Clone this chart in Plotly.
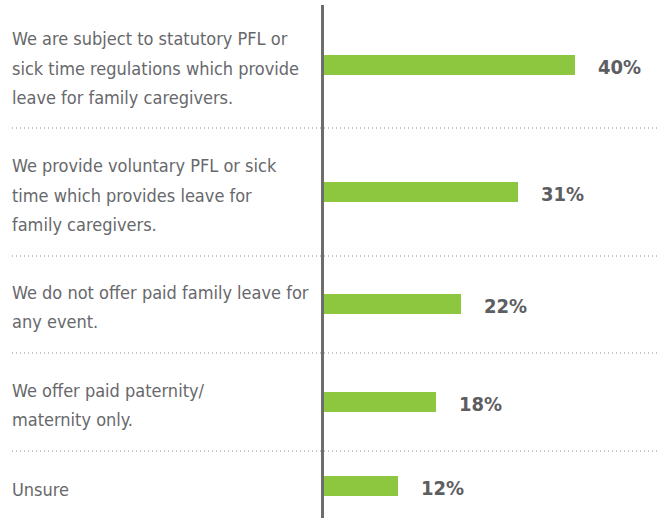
import plotly.graph_objects as go

# ---- data ----
categories = [
    "We are subject to statutory PFL or<br>sick time regulations which provide<br>leave for family caregivers.",
    "We provide voluntary PFL or sick<br>time which provides leave for<br>family caregivers.",
    "We do not offer paid family leave for<br>any event.",
    "We offer paid paternity/<br>maternity only.",
    "Unsure",
]
values = [40, 31, 22, 18, 12]
value_labels = ["40%", "31%", "22%", "18%", "12%"]

# ---- layout constants (pixel-based positions) ----
W, H = 657, 518
AXIS_PX = 322.5
PX_PER_UNIT = 6.3
bar_centers = [65, 192, 304, 402, 486]
separators = [128, 256, 353, 451]
LINE_GAP = 29.5
FONT = "Liberation Sans Narrow, DejaVu Sans Condensed, Arial Narrow, sans-serif"
GREEN = "#8dc63f"
TEXT = "#67686b"
VAL = "#5d5e61"

def px_to_x(p):
    return (p - AXIS_PX) / PX_PER_UNIT

fig = go.Figure()
fig.add_trace(go.Bar(
    x=values, y=bar_centers, orientation="h", width=20,
    marker=dict(color=GREEN, line=dict(width=0)),
    hoverinfo="skip", base=0,
))

# value labels
for v, lab, yc in zip(values, value_labels, bar_centers):
    fig.add_annotation(x=v, y=yc + 2, xref="x", yref="y", text="<b>" + lab + "</b>",
                       showarrow=False, xanchor="left", yanchor="middle", xshift=21,
                       font=dict(family=FONT, size=20, color=VAL))

# category labels (one annotation per line)
for cat, yc in zip(categories, bar_centers):
    lines = cat.split("<br>")
    n = len(lines)
    for i, ln in enumerate(lines):
        fig.add_annotation(x=px_to_x(10), y=yc + 3 + (i - (n - 1) / 2) * LINE_GAP,
                           xref="x", yref="y", text=ln, showarrow=False,
                           xanchor="left", yanchor="middle",
                           font=dict(family=FONT, size=18, color=TEXT))

# dotted separators
for s in separators:
    fig.add_shape(type="line", x0=px_to_x(12), x1=px_to_x(W), y0=s, y1=s,
                  xref="x", yref="y", line=dict(color="#8a8a8a", width=1, dash="1px,3px"),
                  layer="below")

# vertical axis line
fig.add_shape(type="line", x0=0, x1=0, y0=5, y1=H, xref="x", yref="y",
              line=dict(color="#6d6d6d", width=3), layer="above")

fig.update_layout(
    width=W, height=H,
    margin=dict(l=0, r=0, t=0, b=0),
    paper_bgcolor="white", plot_bgcolor="white",
    showlegend=False,
    xaxis=dict(range=[px_to_x(0), px_to_x(W)], visible=False, fixedrange=True),
    yaxis=dict(range=[H, 0], visible=False, fixedrange=True),
    bargap=0,
)

fig.write_html("out.html", config={"displayModeBar": False},
               post_script="document.body.style.margin='0';document.body.style.overflow='hidden';")
